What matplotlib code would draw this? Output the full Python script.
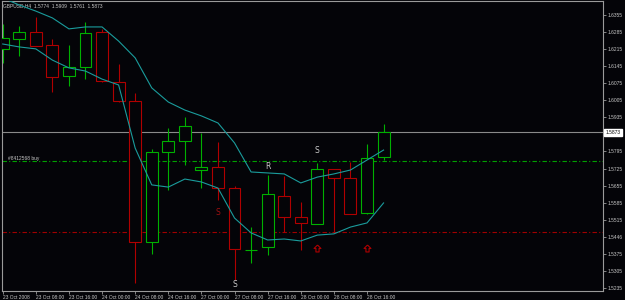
import matplotlib
matplotlib.use("Agg")
import matplotlib.pyplot as plt
import matplotlib.transforms as mtransforms
from matplotlib.path import Path

# GBPUSD H4 candles, 23 Oct 2008 00:00 .. 28 Oct 2008 20:00
opens  = [1.6216, 1.6257, 1.6285, 1.6232, 1.6105, 1.6142, 1.6285, 1.6080,
          1.6002, 1.5425, 1.5794, 1.5839, 1.5720, 1.5731, 1.5645, 1.5390,
          1.5403, 1.5614, 1.5528, 1.5498, 1.5723, 1.5686, 1.5541, 1.5774]
highs  = [1.6318, 1.6310, 1.6347, 1.6257, 1.6232, 1.6326, 1.6298, 1.6154,
          1.6035, 1.5805, 1.5891, 1.5938, 1.5872, 1.5835, 1.5653, 1.5486,
          1.5699, 1.5694, 1.5589, 1.5748, 1.5723, 1.5753, 1.5826, 1.5909]
lows   = [1.6158, 1.6187, 1.6226, 1.6039, 1.6064, 1.6092, 1.6080, 1.6000,
          1.5256, 1.5375, 1.5637, 1.5740, 1.5645, 1.5596, 1.5268, 1.5338,
          1.5370, 1.5466, 1.5391, 1.5498, 1.5466, 1.5539, 1.5539, 1.5761]
closes = [1.6261, 1.6285, 1.6228, 1.6101, 1.6142, 1.6281, 1.6084, 1.6002,
          1.5425, 1.5793, 1.5839, 1.5900, 1.5731, 1.5645, 1.5395, 1.5392,
          1.5621, 1.5528, 1.5502, 1.5723, 1.5686, 1.5539, 1.5768, 1.5873]

# envelope / channel indicator
upper = [1.6425, 1.6396, 1.6371, 1.6343, 1.6298, 1.6306, 1.6306, 1.6248,
         1.6179, 1.6056, 1.5998, 1.5965, 1.5941, 1.5912, 1.5830, 1.5711,
         1.5707, 1.5703, 1.5666, 1.5690, 1.5703, 1.5719, 1.5760, 1.5801]
lower = [1.6236, 1.6224, 1.6216, 1.6170, 1.6138, 1.6125, 1.6092, 1.6068,
         1.5809, 1.5658, 1.5649, 1.5682, 1.5670, 1.5645, 1.5522, 1.5461,
         1.5432, 1.5436, 1.5428, 1.5452, 1.5457, 1.5485, 1.5502, 1.5584]

time_labels = ["23 Oct 2008", "23 Oct 08:00", "23 Oct 16:00", "24 Oct 00:00",
               "24 Oct 08:00", "24 Oct 16:00", "27 Oct 00:00", "27 Oct 08:00",
               "27 Oct 16:00", "28 Oct 00:00", "28 Oct 08:00", "28 Oct 16:00"]
price_ticks = [1.6355, 1.6285, 1.6215, 1.6145, 1.6075, 1.6005, 1.5935,
               1.5795, 1.5725, 1.5655, 1.5585, 1.5515, 1.5446, 1.5375,
               1.5305, 1.5235]

bid = 1.5873
order_price = 1.5756
stop_price = 1.5466
order_label = "#8412568 buy"

# fractal style marks: (bar, price, text, colour)
marks = [(16, 1.5735, "R", "#c8c8c8"), (19, 1.5801, "S", "#c8c8c8"),
         (14, 1.5251, "S", "#c8c8c8"), (13, 1.5543, "S", "#a01010")]
arrow_bars = [19, 22]
arrow_prices = [1.5399, 1.5399]

bg = "#040408"
up_col = "#00b000"
dn_col = "#b00000"
frame_col = "#9a9a9a"
txt_col = "#c8c8c8"

# hollow up-arrow marker shape
arrow_marker = Path([(0, 1), (1, 0), (0.45, 0), (0.45, -1), (-0.45, -1),
                     (-0.45, 0), (-1, 0), (0, 1)])

fig = plt.figure(figsize=(6.25, 3.0), dpi=100, facecolor=bg)
ax = fig.add_axes([2 / 625, 9 / 300, 601 / 625, 290 / 300], facecolor=bg)

idx = list(range(len(opens)))
cols = [up_col if c >= o else dn_col for o, c in zip(opens, closes)]

ax.vlines(idx, lows, highs, colors=cols, linewidth=0.8, zorder=2)
bottoms = [min(o, c) for o, c in zip(opens, closes)]
heights = [max(abs(c - o), 0.00008) for o, c in zip(opens, closes)]
ax.bar(idx, heights, bottom=bottoms, width=0.72, facecolor=bg,
       edgecolor=cols, linewidth=0.8, zorder=3)

ax.plot(idx, upper, color="#1a9c9c", linewidth=0.8, zorder=4)
ax.plot(idx, lower, color="#1a9c9c", linewidth=0.8, zorder=4)

# horizontal lines
ax.axhline(bid, color="#8a8a8a", linewidth=0.8, zorder=1)
ax.axhline(order_price, color="#00a000", linewidth=0.8,
           dashes=(4, 2, 1, 2), zorder=1)
ax.axhline(stop_price, color="#a00000", linewidth=0.8,
           dashes=(4, 2, 1, 2), zorder=1)
ax.text(0.3, order_price + 0.0002, order_label, color=txt_col,
        fontsize=3.5, family="Liberation Sans", va="bottom", ha="left")

for b, p, t, c in marks:
    ax.text(b, p, t, color=c, fontsize=5.5, ha="center", va="center",
            family="DejaVu Sans")
ax.plot(arrow_bars, arrow_prices, linestyle="none", marker=arrow_marker,
        markersize=5, markerfacecolor="none", markeredgecolor="#b00000",
        markeredgewidth=0.8, zorder=5)

ax.text(0.002, 0.985, "GBPUSD,H4  1.5774  1.5909  1.5761  1.5873",
        transform=ax.transAxes, color=txt_col, fontsize=3.5,
        family="Liberation Sans", va="center", ha="left")

ax.set_xlim(-0.042, 36.25)
ax.set_ylim(1.52227, 1.64124)

# axes decoration
for s in ax.spines.values():
    s.set_color(frame_col)
    s.set_linewidth(0.8)

ax.yaxis.tick_right()
ax.set_yticks(price_ticks)
ax.set_yticklabels([f"{p:.4f}" for p in price_ticks])
ax.set_xticks(idx[0:23:2])
ax.set_xticklabels(time_labels)
for lab in ax.get_xticklabels():
    lab.set_horizontalalignment("left")
ax.tick_params(axis="both", colors=frame_col, labelcolor=txt_col,
               labelsize=3.5, length=2, width=0.6, pad=1)
for lab in ax.get_xticklabels() + ax.get_yticklabels():
    lab.set_family("Liberation Sans")

# current bid label box
trans = mtransforms.blended_transform_factory(ax.transAxes, ax.transData)
ax.text(1.004, bid, f"{bid:.4f}", transform=trans, fontsize=3.5,
        family="Liberation Sans", color="black", va="center", ha="left",
        bbox=dict(boxstyle="square,pad=0.25", facecolor="white",
                  edgecolor="white"))

fig.savefig("out.png", dpi=100, facecolor=bg)
